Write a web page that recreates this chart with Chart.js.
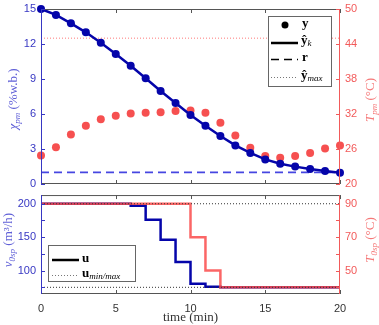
<!DOCTYPE html>
<html><head><meta charset="utf-8">
<script src="https://cdn.jsdelivr.net/npm/chart.js@4"></script>
<style>
html,body{margin:0;padding:0;background:#fff;width:379px;height:325px;overflow:hidden}
canvas{position:absolute;left:0}
</style></head><body>
<canvas id="top" width="379" height="190" style="top:0"></canvas>
<canvas id="bot" width="379" height="135" style="top:190px"></canvas>
<script>
// ---- data ----
const timeMin = [0,1,2,3,4,5,6,7,8,9,10,11,12,13,14,15,16,17,18,19,20];
const moisturePred = [15,14.49,13.77,13.0,12.11,11.14,10.14,9.06,7.97,6.94,5.91,4.99,4.11,3.31,2.66,2.11,1.74,1.49,1.29,1.11,0.97];
const tempMeas = [24.9,26.3,28.5,30.0,31.1,31.7,32.1,32.2,32.3,32.5,32.6,32.2,30.5,28.3,26.2,24.8,24.5,24.8,25.3,26.1,26.6];
const moistureRef = 1.0;
const moistureMax = 12.5;
const airFlow = [200,200,200,200,200,200,197,176,146,113,80.5,76,75,75,75,75,75,75,75,75,75];
const airTemp = [90,90,90,90,90,90,90,90,90,90,70,50,40,40,40,40,40,40,40,40,40];
const airFlowLimits = [75,200];
const leftTicksTop = [0,3,6,9,12,15];
const rightTicksTop = [20,26,32,38,44,50];
const leftTicksBot = [100,150,200];
const rightTicksBot = [50,70,90];
const xTicks = [0,5,10,15,20];

const BLUE_AX = 'rgb(55,55,195)';
const RED_AX = 'rgb(242,90,90)';
const NAVY = 'rgb(5,5,170)';
const SANS = '"Liberation Sans", Arial, sans-serif';
const SERIF = '"Liberation Serif", "DejaVu Serif", serif';

const pts = (xs, ys) => xs.map((x,i)=>({x, y: ys[i]}));
const hline = v => [{x: timeMin[0], y: v}, {x: timeMin[timeMin.length-1], y: v}];

function drawRich(ctx, parts, x, y, rot, color) {
  ctx.save();
  ctx.translate(x, y);
  if (rot) ctx.rotate(rot);
  ctx.fillStyle = color;
  ctx.textBaseline = 'alphabetic';
  let w = 0;
  parts.forEach(p => { ctx.font = p.f; w += ctx.measureText(p.t).width; });
  let cx = -w/2;
  parts.forEach(p => { ctx.font = p.f; ctx.fillText(p.t, cx, (p.dy||0)); cx += ctx.measureText(p.t).width; });
  ctx.restore();
}
function drawLeft(ctx, parts, x, y, color) {
  ctx.save(); ctx.fillStyle = color; ctx.textBaseline = 'middle';
  let cx = x;
  parts.forEach(p => { ctx.font = p.f; ctx.fillText(p.t, cx, y + (p.dy||0)); cx += ctx.measureText(p.t).width; });
  ctx.restore();
}

function framePlugin(cfg) {
  return {
    id: 'frame',
    afterDatasetsDraw(chart) {
      const ctx = chart.ctx, a = chart.chartArea;
      const sx = chart.scales.x, sl = chart.scales.yL, sr = chart.scales.yR;
      ctx.save();
      ctx.lineWidth = 1;
      ctx.strokeStyle = '#555';
      ctx.beginPath();
      ctx.moveTo(a.left, a.top+0.5); ctx.lineTo(a.right, a.top+0.5);
      ctx.moveTo(a.left, a.bottom-0.5); ctx.lineTo(a.right, a.bottom-0.5);
      xTicks.forEach(v => { const px = Math.round(sx.getPixelForValue(v))+0.5;
        ctx.moveTo(px, a.top); ctx.lineTo(px, a.top+4);
        ctx.moveTo(px, a.bottom); ctx.lineTo(px, a.bottom-4); });
      ctx.stroke();
      ctx.strokeStyle = BLUE_AX;
      ctx.beginPath();
      ctx.moveTo(a.left+0.5, a.top); ctx.lineTo(a.left+0.5, a.bottom);
      cfg.leftTicks.forEach(v => { const py = Math.round(sl.getPixelForValue(v))+0.5;
        ctx.moveTo(a.left, py); ctx.lineTo(a.left+4, py); });
      ctx.stroke();
      ctx.strokeStyle = RED_AX;
      ctx.beginPath();
      ctx.moveTo(a.right-0.5, a.top); ctx.lineTo(a.right-0.5, a.bottom);
      cfg.rightTicks.forEach(v => { const py = Math.round(sr.getPixelForValue(v))+0.5;
        ctx.moveTo(a.right, py); ctx.lineTo(a.right-4, py); });
      ctx.stroke();
      ctx.restore();
      cfg.extra && cfg.extra(chart, ctx, a);
    }
  };
}

function yScale(pos, min, max, ticks, color) {
  return {
    type: 'linear', position: pos, min, max,
    grid: {display: false, drawTicks: false}, border: {display: false},
    afterBuildTicks: s => { s.ticks = ticks.map(v => ({value: v})); },
    afterFit: s => { s.width = pos === 'left' ? 41 : 39; },
    ticks: {color, padding: 5, font: {family: SANS, size: 11, lineHeight: 0.01}}
  };
}

// ---- top chart ----
new Chart(document.getElementById('top'), {
  type: 'line',
  data: { datasets: [
    {label:'yhat', data: pts(timeMin, moisturePred), yAxisID:'yL', borderColor: NAVY, backgroundColor: NAVY,
     borderWidth: 2.5, pointRadius: 4, pointBackgroundColor: NAVY, pointBorderWidth: 0, clip: false, order: 1},
    {label:'y', data: pts(timeMin, tempMeas), yAxisID:'yR', showLine: false, pointRadius: 4,
     pointBackgroundColor: 'rgba(245,65,65,0.92)', pointBorderWidth: 0, clip: false, order: 2},
    {label:'r', data: hline(moistureRef), yAxisID:'yL', borderColor: 'rgb(70,70,225)', borderWidth: 1.6,
     borderDash: [8,5], pointRadius: 0, order: 3},
    {label:'ymax', data: hline(moistureMax), yAxisID:'yL', borderColor: 'rgb(255,120,120)', borderWidth: 1,
     borderDash: [1,2], pointRadius: 0, order: 4}
  ]},
  options: {
    responsive: false, animation: false, events: [],
    layout: {padding: {top: 9, bottom: 6}},
    plugins: {legend: {display: false}, tooltip: {enabled: false}},
    scales: {
      x: {type: 'linear', min: 0, max: 20, display: false},
      yL: yScale('left', 0, 15, leftTicksTop, BLUE_AX),
      yR: yScale('right', 20, 50, rightTicksTop, RED_AX)
    }
  },
  plugins: [framePlugin({leftTicks: leftTicksTop, rightTicks: rightTicksTop, extra(chart, ctx, a) {
    drawRich(ctx, [{t:'χ', f:'italic 13px '+SERIF},{t:'pm', f:'italic 9px '+SERIF, dy:3},{t:' (%w.b.)', f:'13px '+SERIF}],
      17, 99, -Math.PI/2, 'rgb(95,95,215)');
    drawRich(ctx, [{t:'T', f:'italic 13px '+SERIF},{t:'pm', f:'italic 9px '+SERIF, dy:3},{t:' (°C)', f:'13px '+SERIF}],
      374, 100, -Math.PI/2, 'rgb(245,120,120)');
    ctx.save();
    ctx.fillStyle = '#fff'; ctx.strokeStyle = '#666'; ctx.lineWidth = 1;
    ctx.fillRect(268, 16, 64, 70); ctx.strokeRect(268.5, 16.5, 63, 70);
    ctx.fillStyle = '#000';
    ctx.beginPath(); ctx.arc(285, 25, 3.5, 0, Math.PI*2); ctx.fill();
    ctx.strokeStyle = '#000';
    ctx.lineWidth = 2.5; ctx.beginPath(); ctx.moveTo(271, 43); ctx.lineTo(298, 43); ctx.stroke();
    ctx.lineWidth = 1.5; ctx.setLineDash([8,5]); ctx.beginPath(); ctx.moveTo(271, 59.5); ctx.lineTo(298, 59.5); ctx.stroke();
    ctx.lineWidth = 1; ctx.strokeStyle = '#777'; ctx.setLineDash([1,2]); ctx.beginPath(); ctx.moveTo(271, 77.5); ctx.lineTo(298, 77.5); ctx.stroke();
    ctx.setLineDash([]);
    ctx.restore();
    drawLeft(ctx, [{t:'y', f:'bold 13px '+SERIF}], 302, 24, '#000');
    drawLeft(ctx, [{t:'ŷ', f:'bold 13px '+SERIF},{t:'k', f:'italic 9px '+SERIF, dy:3}], 301, 41, '#000');
    drawLeft(ctx, [{t:'r', f:'bold 13px '+SERIF}], 302, 58, '#000');
    drawLeft(ctx, [{t:'ŷ', f:'bold 13px '+SERIF},{t:'max', f:'italic 9px '+SERIF, dy:3}], 301, 76, '#000');
  }})]
});

// ---- bottom chart ----
new Chart(document.getElementById('bot'), {
  type: 'line',
  data: { datasets: [
    {label:'umax', data: hline(airFlowLimits[1]), yAxisID:'yL', borderColor: '#333', borderWidth: 1,
     borderDash: [1,2], pointRadius: 0, order: 1},
    {label:'umin', data: hline(airFlowLimits[0]), yAxisID:'yL', borderColor: '#333', borderWidth: 1,
     borderDash: [1,2], pointRadius: 0, order: 1},
    {label:'T0sp', data: pts(timeMin, airTemp), yAxisID:'yR', stepped: 'before', borderColor: 'rgba(250,75,75,0.85)',
     borderWidth: 2.5, pointRadius: 0, order: 2},
    {label:'v0sp', data: pts(timeMin, airFlow), yAxisID:'yL', stepped: 'before', borderColor: NAVY,
     borderWidth: 2.5, pointRadius: 0, order: 3}
  ]},
  options: {
    responsive: false, animation: false, events: [],
    layout: {padding: {top: 5}},
    plugins: {legend: {display: false}, tooltip: {enabled: false}},
    scales: {
      x: {type: 'linear', min: 0, max: 20, position: 'bottom',
          grid: {display: false, drawTicks: false}, border: {display: false},
          afterBuildTicks: s => { s.ticks = xTicks.map(v => ({value: v})); },
          afterFit: s => { s.height = 31; },
          ticks: {color: '#333', padding: 8, maxRotation: 0, font: {family: SANS, size: 11}}},
      yL: yScale('left', 65, 213, leftTicksBot, BLUE_AX),
      yR: yScale('right', 36, 95.2, rightTicksBot, RED_AX)
    }
  },
  plugins: [framePlugin({leftTicks: [75,100,125,150,175,200], rightTicks: [40,50,60,70,80,90], extra(chart, ctx, a) {
    drawRich(ctx, [{t:'v', f:'italic 13px '+SERIF},{t:'0sp', f:'italic 9px '+SERIF, dy:3},{t:' (m³/h)', f:'13px '+SERIF}],
      12, 50, -Math.PI/2, 'rgb(95,95,215)');
    drawRich(ctx, [{t:'T', f:'italic 13px '+SERIF},{t:'0sp', f:'italic 9px '+SERIF, dy:3},{t:' (°C)', f:'13px '+SERIF}],
      374, 50, -Math.PI/2, 'rgb(245,120,120)');
    drawRich(ctx, [{t:'time (min)', f:'13px '+SERIF}], (a.left+a.right)/2, 131, 0, '#333');
    ctx.save();
    ctx.fillStyle = '#fff'; ctx.strokeStyle = '#666'; ctx.lineWidth = 1;
    ctx.fillRect(48, 55, 88, 36); ctx.strokeRect(48.5, 55.5, 87, 36);
    ctx.strokeStyle = '#000'; ctx.lineWidth = 2.5;
    ctx.beginPath(); ctx.moveTo(52, 70); ctx.lineTo(79, 70); ctx.stroke();
    ctx.lineWidth = 1; ctx.strokeStyle = '#777'; ctx.setLineDash([1,2]);
    ctx.beginPath(); ctx.moveTo(52, 85.5); ctx.lineTo(79, 85.5); ctx.stroke();
    ctx.setLineDash([]);
    ctx.restore();
    drawLeft(ctx, [{t:'u', f:'bold 13px '+SERIF}], 82, 69, '#000');
    drawLeft(ctx, [{t:'u', f:'bold 13px '+SERIF},{t:'min/max', f:'italic 9px '+SERIF, dy:3}], 82, 84, '#000');
  }})]
});
</script>
</body></html>
